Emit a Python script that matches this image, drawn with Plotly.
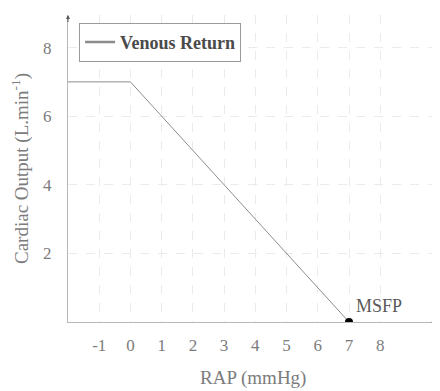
#!/usr/bin/env python3

import plotly.graph_objects as go

# Venous return curve (RAP in mmHg, cardiac output in L/min)
rap = [-2, 0, 7]
cardiac_output = [7, 7, 0]
msfp_x = [7]
msfp_y = [0]
x_ticks = [-1, 0, 1, 2, 3, 4, 5, 6, 7, 8]
x_tick_labels = ["-1", "0", "1", "2", "3", "4", "5", "6", "7", "8"]
y_ticks = [2, 4, 6, 8]

FONT = "Liberation Serif"
AXIS_GREY = "#b8b8b8"
TEXT_GREY = "#7c7c7c"


def build_figure():
    fig = go.Figure()

    # Venous return line (thin), legend entry drawn with a thicker stroke
    fig.add_trace(go.Scatter(
        x=rap, y=cardiac_output,
        mode='lines',
        showlegend=False,
        line=dict(color='#8c8c8c', width=1),
    ))
    fig.add_trace(go.Scatter(
        x=[None], y=[None],
        mode='lines',
        name='<b>Venous Return</b>',
        line=dict(color='#8c8c8c', width=2.5),
    ))

    # MSFP point (half clipped by the x axis)
    fig.add_trace(go.Scatter(
        x=msfp_x, y=msfp_y,
        mode='markers',
        showlegend=False,
        marker=dict(color='black', size=8),
        cliponaxis=True,
    ))

    fig.add_annotation(
        x=msfp_x[0], y=msfp_y[0], text="MSFP",
        showarrow=False, xanchor='left', yanchor='bottom',
        xshift=5, yshift=4,
        font=dict(family=FONT, size=18, color='#5a5a5a'),
    )

    # x axis title placed by hand (automargin is off)
    fig.add_annotation(
        x=0.5, y=0, xref='paper', yref='paper', text='RAP (mmHg)',
        showarrow=False, xanchor='center', yanchor='middle', yshift=-56,
        font=dict(family=FONT, size=19, color=TEXT_GREY),
    )

    # arrowheads at the end of both axes
    fig.add_annotation(x=9.85, y=0, ax=9.6, ay=0, axref='x', ayref='y',
                       xref='x', yref='y', text='', showarrow=True,
                       arrowhead=2, arrowsize=0.8, arrowwidth=1, arrowcolor='#555555')
    fig.add_annotation(x=-2, y=8.95, ax=-2, ay=8.7, axref='x', ayref='y',
                       xref='x', yref='y', text='', showarrow=True,
                       arrowhead=2, arrowsize=0.8, arrowwidth=1, arrowcolor='#555555')

    # page body adds an 8px offset, so the figure is 8px smaller
    fig.update_layout(
        width=432, height=383,
        margin=dict(l=60, r=2, t=7, b=69),
        plot_bgcolor='white',
        paper_bgcolor='white',
        font=dict(family=FONT, color=TEXT_GREY, size=17),
        showlegend=True,
        legend=dict(
            x=0.03, y=0.975, xanchor='left', yanchor='top',
            bgcolor='white', bordercolor='#9a9a9a', borderwidth=1,
            itemwidth=30,
            font=dict(family=FONT, size=18, color='#4a4a4a'),
        ),
    )

    fig.update_xaxes(
        range=[-2, 9.85],
        tickvals=x_ticks, ticktext=x_tick_labels,
        showgrid=True, gridcolor='#ebebeb', gridwidth=1, griddash='dash',
        zeroline=False, automargin=False,
        showline=True, linecolor=AXIS_GREY, linewidth=1,
        ticks='', ticklabelstandoff=8, tickfont=dict(family=FONT, size=17, color=TEXT_GREY),
    )
    fig.update_yaxes(
        range=[0, 8.95],
        tickvals=y_ticks,
        showgrid=True, gridcolor='#ebebeb', gridwidth=1, griddash='dash',
        zeroline=False, automargin=False,
        showline=True, linecolor=AXIS_GREY, linewidth=1,
        ticks='', ticklabelstandoff=12, tickfont=dict(family=FONT, size=17, color=TEXT_GREY),
        title=dict(text='Cardiac Output (L.min<sup>-1</sup>)',
                   font=dict(family=FONT, size=19, color=TEXT_GREY)),
    )
    return fig


def main():
    fig = build_figure()
    fig.write_html("out.html")


if __name__ == "__main__":
    main()
